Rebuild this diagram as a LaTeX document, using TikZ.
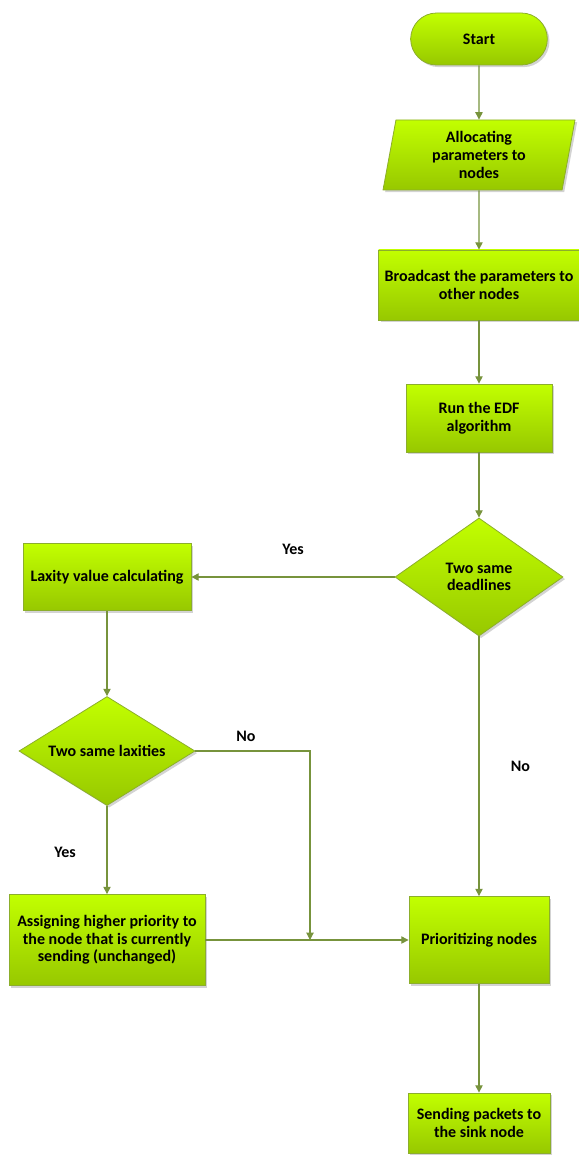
\documentclass[tikz,border=0pt]{standalone}
\usepackage{fontspec}
\setmainfont{Carlito}
\usepackage{tikz}
\usetikzlibrary{shapes.geometric,shapes.misc,shadows,arrows.meta}
\definecolor{leaftop}{HTML}{C2FF00}
\definecolor{leafbot}{HTML}{97C800}
\definecolor{leafrim}{HTML}{8CAE2C}
\definecolor{stem}{HTML}{77933C}
\begin{document}
\begin{tikzpicture}[x=0.75pt,y=-0.75pt,
		every node/.style={font=\bfseries\fontsize{12}{13.2}\selectfont,align=center},
		leaf/.style={top color=leaftop,bottom color=leafbot,draw=leafrim,line width=0.6pt,
			inner sep=2pt,drop shadow={opacity=0.35,shadow xshift=1.6pt,shadow yshift=-1.6pt}},
		boxnode/.style={leaf,rectangle},
		termnode/.style={leaf,rounded rectangle},
		datanode/.style={leaf,trapezium,trapezium left angle=76,trapezium right angle=104,trapezium stretches body},
		asknode/.style={leaf,diamond,inner sep=0pt},
		flow/.style={draw=stem,line width=0.8pt,-{Triangle[length=5.5pt,width=5.5pt]}},
		tag/.style={font=\bfseries\fontsize{12}{13.2}\selectfont}]
		\useasboundingbox (0,0) rectangle (578,1155);

		\node[termnode,minimum width=106.5pt,minimum height=39pt] (start) at (479,39) {Start};
		\node[datanode,minimum width=144pt,minimum height=52.5pt] (alloc) at (479,155) {Allocating\\parameters to\\nodes};
		\node[boxnode,minimum width=150.75pt,minimum height=52.5pt] (bcast) at (479,285) {Broadcast the parameters to\\other nodes};
		\node[boxnode,minimum width=109.5pt,minimum height=51pt] (edf) at (479,418) {Run the EDF\\algorithm};
		\node[asknode,aspect=1.42,minimum width=126pt,minimum height=88.5pt] (dead) at (479,577) {Two same\\deadlines};
		\node[boxnode,minimum width=126pt,minimum height=50.25pt] (laxval) at (107,577) {Laxity value calculating};
		\node[asknode,aspect=1.6,minimum width=132pt,minimum height=81.75pt] (laxsame) at (107,751) {Two same laxities};
		\node[boxnode,minimum width=147pt,minimum height=68.25pt] (assign) at (107,940) {Assigning higher priority to\\the node that is currently\\sending (unchanged)};
		\node[boxnode,minimum width=105pt,minimum height=65.25pt] (prio) at (479,940) {Prioritizing nodes};
		\node[boxnode,minimum width=106.5pt,minimum height=45pt] (send) at (479,1123) {Sending packets to\\the sink node};
		\coordinate (join) at (310,940);

		\draw[flow] (start) -- (alloc);
		\draw[flow] (alloc) -- (bcast);
		\draw[flow] (bcast) -- (edf);
		\draw[flow] (edf) -- (dead);
		\draw[flow] (dead.west) -- node[tag,midway,yshift=21pt] {Yes} (laxval.east);
		\draw[flow] (laxval) -- (laxsame);
		\draw[flow] (laxsame.south) -- node[tag,midway,xshift=-31.5pt,yshift=-2pt] {Yes} (assign.north);
		\draw[flow] (laxsame.east) -| node[tag,pos=0.22,yshift=11pt] {No} (join);
		\draw[flow] (dead.south) -- node[tag,midway,xshift=31pt] {No} (prio.north);
		\draw[flow] (assign) -- (prio);
		\draw[flow] (prio) -- (send);
	\end{tikzpicture}
\end{document}
